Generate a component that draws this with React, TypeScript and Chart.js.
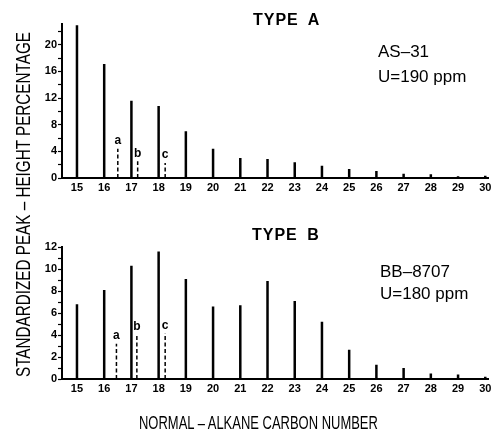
import React, { useEffect, useLayoutEffect, useRef, useState } from 'react';
import { Chart, registerables } from 'chart.js';

Chart.register(...registerables);

// ---- data ----
const carbonNumbers = [15, 16, 17, 18, 19, 20, 21, 22, 23, 24, 25, 26, 27, 28, 29, 30];
const typeAValues = [22.9, 17.1, 11.6, 10.8, 7.0, 4.4, 3.0, 2.85, 2.35, 1.85, 1.35, 1.05, 0.65, 0.55, 0.25, 0.35];
const typeBValues = [6.8, 8.1, 10.3, 11.6, 9.1, 6.6, 6.7, 8.9, 7.1, 5.2, 2.65, 1.3, 1.0, 0.5, 0.4, 0.2];

const markerLabels = ['a', 'b', 'c'];
const typeAMarkerX = [16.5, 17.23, 18.24];
const typeAMarkerValues = [4.4, 2.5, 2.25];
const typeBMarkerX = [16.45, 17.2, 18.24];
const typeBMarkerValues = [3.2, 4.0, 4.15];

const typeAYTicks = [0, 2, 4, 6, 8, 10, 12, 14, 16, 18, 20, 22];
const typeALabelStep = 4;
const typeBYTicks = [0, 1, 2, 3, 4, 5, 6, 7, 8, 9, 10, 11, 12];
const typeBLabelStep = 2;

const W = 496;
const H = 431;
const SANS = '"Liberation Sans", Arial, Helvetica, sans-serif';

function sticks(xs: number[], ys: number[]) {
  const d: any[] = [];
  xs.forEach((x, i) => {
    d.push({ x, y: 0 }, { x, y: ys[i] }, { x, y: null });
  });
  return d;
}

interface PanelCfg {
  padTop: number;
  padBottom: number;
  yMax: number;
  yTicks: number[];
  labelStep: number;
  values: number[];
  markerX: number[];
  markerValues: number[];
}

function makeChart(canvas: HTMLCanvasElement, cfg: PanelCfg) {
  const labelPlugin = {
    id: 'markerLabels',
    afterDatasetsDraw(chart: any) {
      const { ctx, scales } = chart;
      const x = scales.x;
      const y = scales.y;
      ctx.save();
      ctx.fillStyle = '#000';
      ctx.font = `bold 12px ${SANS}`;
      ctx.textAlign = 'center';
      ctx.textBaseline = 'bottom';
      cfg.markerX.forEach((xv, i) => {
        ctx.fillText(markerLabels[i], x.getPixelForValue(xv), y.getPixelForValue(cfg.markerValues[i]) - 2);
      });
      ctx.restore();
    },
  };

  return new Chart(canvas, {
    type: 'line',
    data: {
      datasets: [
        {
          data: sticks(carbonNumbers, cfg.values),
          borderColor: '#000',
          borderWidth: 2.5,
          borderCapStyle: 'butt',
          pointRadius: 0,
          spanGaps: false,
          tension: 0,
        },
        {
          data: sticks(cfg.markerX, cfg.markerValues),
          borderColor: '#000',
          borderWidth: 1.5,
          borderDash: [4, 2.5],
          borderCapStyle: 'butt',
          pointRadius: 0,
          spanGaps: false,
          tension: 0,
        },
      ],
    },
    options: {
      responsive: false,
      animation: false,
      devicePixelRatio: 1,
      layout: { padding: { left: 0, right: 8, top: cfg.padTop, bottom: cfg.padBottom } },
      plugins: {
        legend: { display: false },
        tooltip: { enabled: false },
        title: { display: false },
      },
      scales: {
        x: {
          type: 'linear',
          min: 14.45,
          max: 30.1,
          afterBuildTicks: (axis: any) => {
            axis.ticks = carbonNumbers.map((v) => ({ value: v }));
          },
          afterFit: (s: any) => {
            s.height = 22;
          },
          ticks: {
            color: '#000',
            font: { family: SANS, size: 11, weight: 'bold' },
            padding: 3,
            maxRotation: 0,
            autoSkip: false,
          },
          grid: { display: true, drawOnChartArea: false, drawTicks: false },
          border: { display: true, color: '#000', width: 2 },
        },
        y: {
          type: 'linear',
          min: 0,
          max: cfg.yMax,
          afterBuildTicks: (axis: any) => {
            axis.ticks = cfg.yTicks.map((v) => ({ value: v }));
          },
          afterFit: (s: any) => {
            s.width = 62;
          },
          ticks: {
            color: '#000',
            font: { family: SANS, size: 11, weight: 'bold' },
            padding: 1,
            autoSkip: false,
            callback: (v: any) => (Number(v) % cfg.labelStep === 0 ? String(v) : ''),
          },
          grid: {
            display: true,
            drawOnChartArea: false,
            drawTicks: true,
            tickLength: 4,
            tickColor: '#000',
            tickWidth: 1.2,
          },
          border: { display: true, color: '#000', width: 2 },
        },
      },
    },
    plugins: [labelPlugin],
  } as any);
}

function Panel({ cfg }: { cfg: PanelCfg }) {
  const ref = useRef<HTMLCanvasElement | null>(null);
  useEffect(() => {
    if (!ref.current) return;
    const chart = makeChart(ref.current, cfg);
    return () => chart.destroy();
  }, []);
  return (
    <canvas
      ref={ref}
      width={W}
      height={H}
      style={{ position: 'absolute', left: 0, top: 0, width: W, height: H }}
    />
  );
}

function FitText({
  text,
  left,
  top,
  width,
  fontSize,
  rotate,
  bold,
}: {
  text: string;
  left: number;
  top: number;
  width: number;
  fontSize: number;
  rotate?: boolean;
  bold?: boolean;
}) {
  const ref = useRef<HTMLDivElement | null>(null);
  const [scale, setScale] = useState(1);
  useLayoutEffect(() => {
    if (ref.current) {
      const natural = ref.current.scrollWidth;
      if (natural > 0) setScale(width / natural);
    }
  }, []);
  return (
    <div
      ref={ref}
      style={{
        position: 'absolute',
        left,
        top,
        whiteSpace: 'nowrap',
        lineHeight: 1,
        fontFamily: SANS,
        fontSize,
        fontWeight: bold ? 'bold' : 'normal',
        color: '#000',
        transformOrigin: '0 0',
        transform: `${rotate ? 'rotate(-90deg) ' : ''}scaleX(${scale})`,
      }}
    >
      {text}
    </div>
  );
}

const txt = (extra: React.CSSProperties): React.CSSProperties => ({
  position: 'absolute',
  whiteSpace: 'nowrap',
  color: '#000',
  lineHeight: 1,
  fontFamily: SANS,
  ...extra,
});

export default function App() {
  const top: PanelCfg = {
    padTop: 24,
    padBottom: H - 178 - 22,
    yMax: 23.1,
    yTicks: typeAYTicks,
    labelStep: typeALabelStep,
    values: typeAValues,
    markerX: typeAMarkerX,
    markerValues: typeAMarkerValues,
  };
  const bottom: PanelCfg = {
    padTop: 247,
    padBottom: H - 379 - 22,
    yMax: 12,
    yTicks: typeBYTicks,
    labelStep: typeBLabelStep,
    values: typeBValues,
    markerX: typeBMarkerX,
    markerValues: typeBMarkerValues,
  };
  return (
    <div style={{ position: 'fixed', left: 0, top: 0, width: W, height: H, background: '#fff', overflow: 'hidden' }}>
      <Panel cfg={top} />
      <Panel cfg={bottom} />
      <div style={txt({ left: 253, top: 12, fontWeight: 'bold', fontSize: 16, letterSpacing: 1, wordSpacing: 4 })}>TYPE A</div>
      <div style={txt({ left: 252, top: 227, fontWeight: 'bold', fontSize: 16, letterSpacing: 1, wordSpacing: 4 })}>TYPE B</div>
      <div style={txt({ left: 378, top: 43, fontSize: 17 })}>AS–31</div>
      <div style={txt({ left: 378, top: 68, fontSize: 17 })}>U=190 ppm</div>
      <div style={txt({ left: 380, top: 263, fontSize: 17 })}>BB–8707</div>
      <div style={txt({ left: 380, top: 285, fontSize: 17 })}>U=180 ppm</div>
      <FitText text="STANDARDIZED PEAK – HEIGHT PERCENTAGE" left={12} top={377} width={345} fontSize={21} rotate />
      <FitText text="NORMAL – ALKANE CARBON NUMBER" left={139} top={413} width={239} fontSize={19} />
    </div>
  );
}
